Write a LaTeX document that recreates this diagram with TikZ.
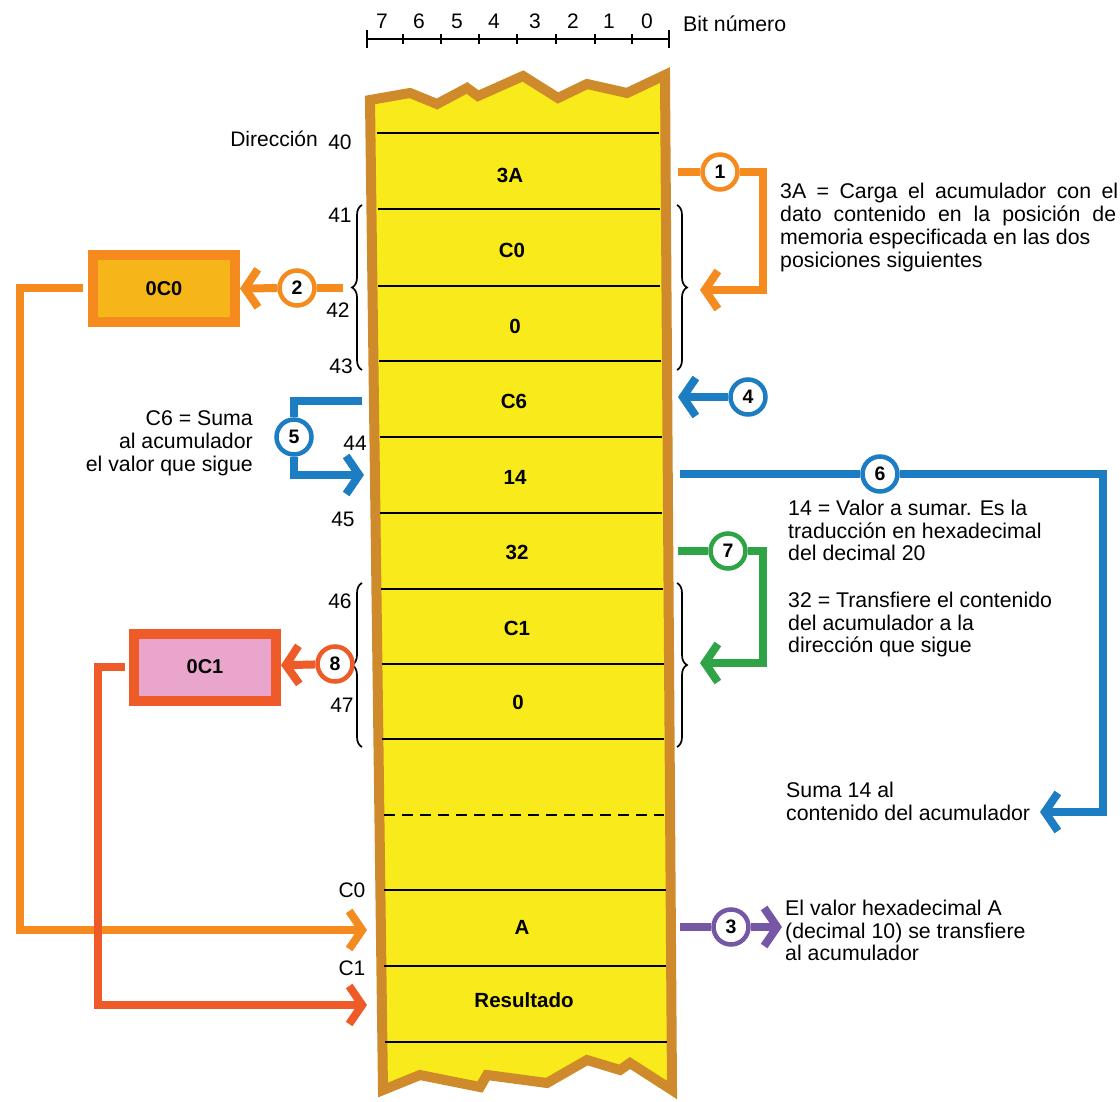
\documentclass[tikz,border=0pt]{standalone}
\usepackage{fontspec}
\setmainfont{Liberation Sans}
\usetikzlibrary{arrows.meta,decorations.pathreplacing,calc}
\definecolor{memyellow}{HTML}{F9EA1C}
\definecolor{membrown}{HTML}{CF8A2C}
\definecolor{corange}{HTML}{F58A1F}
\definecolor{cred}{HTML}{EE5A28}
\definecolor{cblue}{HTML}{1C7DC2}
\definecolor{cgreen}{HTML}{2EA446}
\definecolor{cpurple}{HTML}{7657A6}
\definecolor{cgold}{HTML}{F6B519}
\definecolor{cpink}{HTML}{EAA5CD}
\newcommand{\txt}{\fontsize{21.3}{23}\selectfont}
\begin{document}
\begin{tikzpicture}[x=1pt,y=-1pt,
  cell/.style={font=\bfseries\fontsize{20.5}{20.5}\selectfont},
  addr/.style={font=\fontsize{21}{21}\selectfont, inner sep=0pt},
  circ/.style={circle, fill=white, line width=4.5pt, minimum size=35pt, inner sep=0pt,
    font=\bfseries\fontsize{19.5}{19.5}\selectfont},
  conn/.style={line width=8pt, line cap=butt, line join=miter},
  arr/.style={-{Straight Barb[length=13pt,width=38pt]}},
  note/.style={anchor=base west, inner sep=0pt, font=\txt},
  regbox/.style={line width=10pt, minimum width=142pt, minimum height=67pt,
    font=\bfseries\fontsize{20}{20}\selectfont},
  brc/.style={decorate, decoration={brace, amplitude=10pt}, line width=1.7pt}]
\useasboundingbox (0,0) rectangle (1120,1102);
\fill[white] (0,0) rectangle (1120,1102);

% memory strip with torn ends
\filldraw[fill=memyellow, draw=membrown, line width=10pt, line join=miter]
  (370,100) -- (410,93) -- (437,104) -- (467,88) -- (478,96) -- (523,76)
  -- (558,98) -- (587,84) -- (627,93) -- (665,75)
  -- (672,1090) -- (630,1063) -- (620,1070) -- (587,1060) -- (547,1083)
  -- (487,1075) -- (480,1087) -- (420,1075) -- (383,1090) -- cycle;

% cell separators
\foreach \y in {133,209,286,361,437,513,589,664,739,890,966,1042}
  \draw[line width=1.8pt] ({377+0.0088*(\y-133)},\y) -- ({659+0.0088*(\y-133)},\y);
\draw[line width=1.8pt, dash pattern=on 11pt off 7pt] (384,815) -- (664,815);

% cell contents
\node[cell] (m40) at (510,175) {3A};
\node[cell] (m41) at (512,250) {C0};
\node[cell] (m42) at (515,326) {0};
\node[cell] (m43) at (514,401) {C6};
\node[cell] (m44) at (515,477) {14};
\node[cell] (m45) at (517,552) {32};
\node[cell] (m46) at (517,628) {C1};
\node[cell] (m47) at (518,702) {0};
\node[cell] (mC0) at (522,927) {A};
\node[cell] (mC1) at (524,1000) {Resultado};

% bit ruler
\draw[line width=1.8pt] (367,39) -- (669,39);
\draw[line width=1.8pt] (367,30) -- (367,48) (669,30) -- (669,48);
\foreach \x in {403,441,479,517,556,595,632}
  \draw[line width=1.6pt] (\x,34) -- (\x,44);
\foreach \x/\b in {382/7,419/6,457/5,494/4,535/3,573/2,609/1,647/0}
  \node[addr] (bit\b) at (\x,21) {\b};
\node[note] (bitlbl) at (683,32) {Bit número};

% addresses
\node[addr, anchor=east] (dirlbl) at (318,139) {Dirección};
\node[addr] (a40) at (340,142) {40};
\node[addr] (a41) at (340,215) {41};
\node[addr] (a42) at (338,310) {42};
\node[addr] (a43) at (341,366) {43};
\node[addr] (a44) at (355,443) {44};
\node[addr] (a45) at (343,519) {45};
\node[addr] (a46) at (340,601) {46};
\node[addr] (a47) at (342,705) {47};
\node[addr] (aC0) at (352,890) {C0};
\node[addr] (aC1) at (352,968) {C1};

% braces
\draw[brc] (362,370) -- (362,205);
\draw[brc] (362,747) -- (362,583);
\draw[brc] (677,205) -- (677,370);
\draw[brc] (677,583) -- (677,747);

% registers
\node[regbox, draw=corange, fill=cgold] (r0C0) at (164,289) {0C0};
\node[regbox, draw=cred, fill=cpink] (r0C1) at (205,667) {0C1};

% step markers
\node[circ, draw=corange] (s1) at (720,172) {1};
\node[circ, draw=corange] (s2) at (297,288) {2};
\node[circ, draw=cpurple] (s3) at (731,927) {3};
\node[circ, draw=cblue] (s4) at (748,397) {4};
\node[circ, draw=cblue] (s5) at (294,437) {5};
\node[circ, draw=cblue] (s6) at (880,474) {6};
\node[circ, draw=cgreen] (s7) at (728,551) {7};
\node[circ, draw=cred] (s8) at (335,664) {8};

% connector ends
\coordinate (e1a) at (678,172);
\coordinate (e1b) at (700,290);
\coordinate (e2a) at (343,288);
\coordinate (e3a) at (680,927);
\coordinate (e3b) at (782,927);
\coordinate (e4b) at (678,397);
\coordinate (e5a) at (362,401);
\coordinate (e5b) at (364,475);
\coordinate (e6a) at (680,474);
\coordinate (e6b) at (1040,812);
\coordinate (e7a) at (678,551);
\coordinate (e7b) at (700,663);
\coordinate (eAa) at (83,288);
\coordinate (eAb) at (367,930);
\coordinate (eBa) at (125,667);
\coordinate (eBb) at (367,1005);

% connectors
\draw[conn, corange] (e1a) -- (s1);
\draw[conn, corange, arr] (s1) -- (763,172) |- (e1b);
\draw[conn, corange] (e2a) -- (s2);
\draw[conn, corange, arr] (s2) -- (r0C0);
\draw[conn, corange, arr] (eAa) -| (20,930) -- (eAb);
\draw[conn, cpurple] (e3a) -- (s3);
\draw[conn, cpurple, arr] (s3) -- (e3b);
\draw[conn, cblue, arr] (s4) -- (e4b);
\draw[conn, cblue] (e5a) -| (s5);
\draw[conn, cblue, arr] (s5) |- (e5b);
\draw[conn, cblue] (e6a) -- (s6);
\draw[conn, cblue, arr] (s6) -| (1103,812) -- (e6b);
\draw[conn, cgreen] (e7a) -- (s7);
\draw[conn, cgreen, arr] (s7) -- (763,551) |- (e7b);
\draw[conn, cred, arr] (s8) -- (r0C1);
\draw[conn, cred, arr] (eBa) -| (98,1005) -- (eBb);

% explanations
\node[note] (t1a) at (780,199) {\makebox[338pt][s]{3A = Carga el acumulador con el}};
\node[note] (t1b) at (780,222) {\makebox[336pt][s]{dato contenido en la posición de}};
\node[note] (t1c) at (780,245) {memoria especificada en las dos};
\node[note] (t1d) at (780,268) {posiciones siguientes};

\node[note, anchor=base east] (t5a) at (253,425) {C6 = Suma};
\node[note, anchor=base east] (t5b) at (253,448) {al acumulador};
\node[note, anchor=base east] (t5c) at (253,471) {el valor que sigue};

\node[note] (t6a) at (788,515) {14 = Valor a sumar. Es la};
\node[note] (t6b) at (788,538) {traducción en hexadecimal};
\node[note] (t6c) at (788,560) {del decimal 20};

\node[note] (t7a) at (788,607) {32 = Transfiere el contenido};
\node[note] (t7b) at (788,630) {del acumulador a la};
\node[note] (t7c) at (788,652) {dirección que sigue};

\node[note] (t6d) at (786,797) {Suma 14 al};
\node[note] (t6e) at (786,820) {contenido del acumulador};

\node[note] (t3a) at (785,915) {El valor hexadecimal A};
\node[note] (t3b) at (785,938) {(decimal 10) se transfiere};
\node[note] (t3c) at (785,960) {al acumulador};
\end{tikzpicture}
\end{document}
